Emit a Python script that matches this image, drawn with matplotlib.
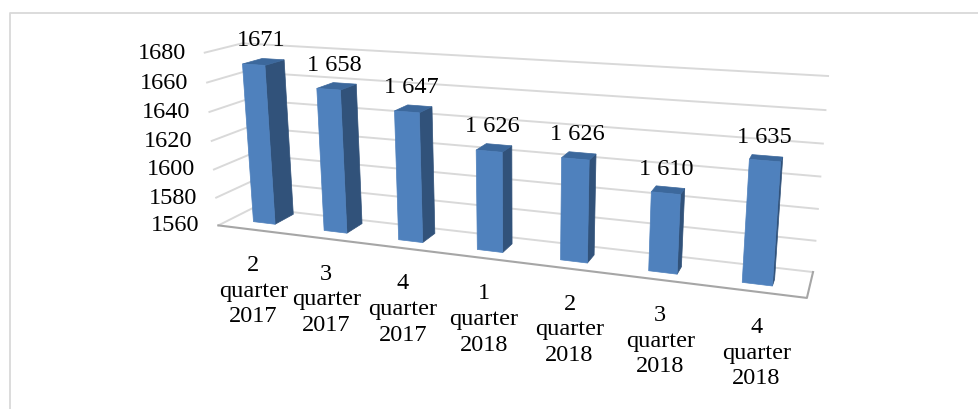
import numpy as np
import matplotlib
matplotlib.use("Agg")
import matplotlib.pyplot as plt
from matplotlib.patches import Polygon

# data
categories = ["2\nquarter\n2017", "3\nquarter\n2017", "4\nquarter\n2017", "1\nquarter\n2018",
              "2\nquarter\n2018", "3\nquarter\n2018", "4\nquarter\n2018"]
values = [1671, 1658, 1647, 1626, 1626, 1610, 1635]
value_labels = ["1671", "1 658", "1 647", "1 626", "1 626", "1 610", "1 635"]
ticks = [1560, 1580, 1600, 1620, 1640, 1660, 1680]

W, H = 979, 409
VMIN, VMAX = ticks[0], ticks[-1]
N = len(values)

FRONT = "#4f81bd"
SIDE = "#31527a"
TOP = "#3c689c"
GRID = "#d9d9d9"
FLOOR = "#a6a6a6"

# box corners of the fake 3d chart: (category pos, depth, level) -> pixel
world = np.array([[0, 0, 0], [0, 0, 1], [0, 1, 0], [0, 1, 1], [N, 1, 0], [N, 1, 1], [N, 0, 0]], float)
pixel = np.array([[219, 225], [204, 53], [253, 208], [243, 43], [813, 272], [828, 76], [807, 298]], float)

# camera matrix by least squares
rows, rhs = [], []
for (a, b, c), (u, v) in zip(world, pixel):
    rows.append([a, b, c, 1, 0, 0, 0, 0, -u * a, -u * b, -u * c])
    rows.append([0, 0, 0, 0, a, b, c, 1, -v * a, -v * b, -v * c])
    rhs += [u, v]
cam = np.linalg.lstsq(np.array(rows), np.array(rhs), rcond=None)[0]
cam = np.append(cam, 1).reshape(3, 4)


def project(x, d, level):
    p = cam @ np.array([x, d, level, 1.0])
    return p[0] / p[2], p[1] / p[2]


def level_of(v):
    return (v - VMIN) / (VMAX - VMIN)


plt.rcParams["font.family"] = ["Liberation Serif", "DejaVu Serif"]
fig = plt.figure(figsize=(W / 100, H / 100), dpi=100)
ax = fig.add_axes([0, 0, 1, 1])
ax.set_xlim(0, W)
ax.set_ylim(H, 0)
ax.axis("off")

# outer frame of the chart, no right side in the crop
ax.plot([10.5, 10.5, W], [H, 12.5, 12.5], color="#d9d9d9", lw=1.3, zorder=1)

# walls
for t in ticks:
    lv = level_of(t)
    pts = [project(0, 0, lv), project(0, 1, lv), project(N, 1, lv)]
    ax.plot(*zip(*pts), color=GRID, lw=1.4, zorder=2)
    x0, y0 = project(0, 0, lv)
    ax.text(x0 - 19, y0 + 0.5, str(t), ha="right", va="center", fontsize=17.5, color="black", zorder=6)

# floor
floor = [project(0, 0, 0), project(N, 0, 0), project(N, 1, 0)]
ax.plot(*zip(*floor), color=FLOOR, lw=1.5, zorder=3)

# bars, the depth of the original render shrinks towards the right
BW = 0.31
for i, (v, lab, cat) in enumerate(zip(values, value_labels, categories)):
    lv = level_of(v)
    D0 = 0.35 - 0.012 * i
    D1 = 0.90 - 0.06 * i
    x0 = i + 0.5 - BW / 2 - 0.02
    x1 = x0 + BW
    front = [project(x0, D0, lv), project(x1, D0, lv), project(x1, D0, 0), project(x0, D0, 0)]
    side = [project(x1, D0, lv), project(x1, D1, lv), project(x1, D1, 0), project(x1, D0, 0)]
    top = [project(x0, D0, lv), project(x1, D0, lv), project(x1, D1, lv), project(x0, D1, lv)]
    ax.add_patch(Polygon(side, closed=True, fc=SIDE, ec=SIDE, lw=0.5, zorder=4))
    ax.add_patch(Polygon(top, closed=True, fc=TOP, ec=TOP, lw=0.5, zorder=4))
    ax.add_patch(Polygon(front, closed=True, fc=FRONT, ec=FRONT, lw=0.5, zorder=5))

    tx, ty = project((x0 + x1) / 2, (D0 + D1) / 2, lv)
    ax.text(tx - 2, ty - 21, lab, ha="center", va="center", fontsize=17.5, color="black", zorder=6)

    cx, cy = project(i + 0.5, 0, 0)
    ax.text(cx, cy + 25, cat, ha="center", va="top", fontsize=17.5, color="black",
            linespacing=1.3, zorder=6)

fig.savefig("out.png", dpi=100)
